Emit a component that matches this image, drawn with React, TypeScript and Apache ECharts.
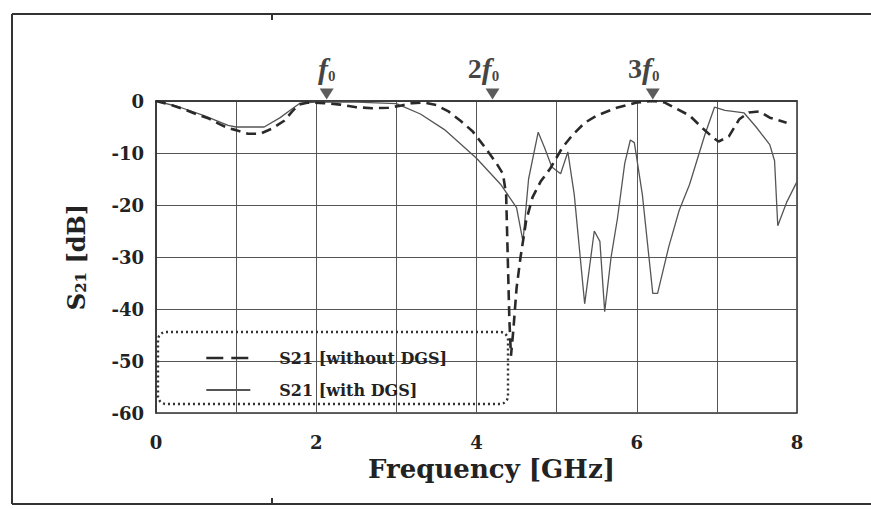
import React, { useEffect, useRef } from "react";
import * as echarts from "echarts";

// S21 without DGS (dashed)
const freqWithout = [0, 0.2, 0.35, 0.5, 0.65, 0.8, 0.9, 1.0, 1.15, 1.3, 1.45, 1.6, 1.7, 1.78, 1.9, 2.1, 2.3, 2.5, 2.7, 2.9, 3.05, 3.2, 3.35, 3.5, 3.65, 3.8, 3.95, 4.1, 4.25, 4.33, 4.37, 4.39, 4.41, 4.43, 4.46, 4.5, 4.55, 4.62, 4.7, 4.8, 4.92, 5.07, 5.2, 5.35, 5.5, 5.75, 6.0, 6.2, 6.35, 6.5, 6.66, 6.82, 6.95, 7.02, 7.15, 7.28, 7.4, 7.53, 7.66, 7.87];
const s21Without = [0, -0.8, -1.6, -2.5, -3.3, -4.5, -5.2, -5.6, -6.3, -6.3, -5.3, -3.8, -2.0, -0.7, -0.3, -0.4, -0.7, -1.2, -1.4, -1.3, -0.9, -0.4, -0.3, -0.8, -2.0, -3.8, -5.8, -8.8, -12, -14, -18, -30, -42, -49, -44, -36, -30, -23, -18.5, -15.5, -13, -9, -6.5, -4.2, -2.8, -1.3, -0.3, 0, -0.3, -1.5, -2.8, -5.2, -7, -7.8, -6.8, -3.5, -2.2, -2, -3.2, -4.2];

// S21 with DGS (solid)
const freqWith = [0, 0.3, 0.6, 0.9, 1.0, 1.35, 1.55, 1.7, 1.8, 2.0, 2.5, 3.0, 3.3, 3.6, 4.0, 4.3, 4.5, 4.58, 4.65, 4.77, 4.85, 4.94, 5.05, 5.14, 5.22, 5.35, 5.47, 5.54, 5.6, 5.68, 5.76, 5.85, 5.92, 5.97, 6.07, 6.2, 6.26, 6.4, 6.53, 6.66, 6.85, 6.97, 7.1, 7.2, 7.34, 7.49, 7.66, 7.72, 7.76, 7.87, 8.0];
const s21With = [0, -1.2, -2.8, -4.7, -5, -5, -3.2, -1.5, -0.4, -0.2, -0.2, -0.5, -2.5, -5.5, -11, -16, -20.5, -27, -15, -6, -9, -12.7, -14, -9.8, -18, -39, -25, -27, -40.5, -30, -22.5, -12, -7.5, -8, -18, -37, -37, -28, -21, -16, -6.5, -1.2, -1.8, -2, -2.3, -5, -8.4, -11.5, -24, -19.5, -15.5];

// harmonic markers
const markerFreqs = [2.13, 4.2, 6.2];
const markerLabels = ["{f|f}{s|0}", "{n|2}{f|f}{s|0}", "{n|3}{f|f}{s|0}"];

const seriesNames = ["S21 [without DGS]", "S21 [with DGS]"];

const SERIF = "'DejaVu Serif', 'Liberation Serif', serif";
const TIMES = "'Liberation Serif', serif";

export default function App() {
  const ref = useRef<HTMLDivElement>(null);
  useEffect(() => {
    if (!ref.current) return;
    const chart = echarts.init(ref.current, undefined, { renderer: "svg" });
    const dataWithout = freqWithout.map((f, i) => [f, s21Without[i]]);
    const dataWith = freqWith.map((f, i) => [f, s21With[i]]);
    const markerData = markerFreqs.map((f, i) => ({
      value: [f, 0],
      label: { formatter: markerLabels[i], offset: [i === 0 ? 0 : -9, 0] },
    }));
    chart.setOption({
      animation: false,
      backgroundColor: "#ffffff",
      grid: { left: 156, right: 74, top: 101, bottom: 96, show: true, borderColor: "#333", borderWidth: 1.5 },
      xAxis: {
        type: "value",
        min: 0,
        max: 8,
        interval: 1,
        name: "Frequency [GHz]",
        nameLocation: "middle",
        nameGap: 40,
        nameTextStyle: { fontFamily: SERIF, fontWeight: "bold", fontSize: 26, color: "#222", padding: [0, 0, 0, 30] },
        axisLine: { show: true, lineStyle: { color: "#333", width: 1.5 } },
        axisTick: { show: false },
        axisLabel: {
          margin: 20,
          fontFamily: SERIF,
          fontWeight: "bold",
          fontSize: 18,
          color: "#222",
          formatter: (v: number) => (v % 2 === 0 ? String(v) : ""),
        },
        splitLine: { show: true, lineStyle: { color: "#555", width: 1 } },
      },
      yAxis: {
        type: "value",
        min: -60,
        max: 0,
        interval: 10,
        name: "{a|S}{b|21}{a| [dB]}",
        nameLocation: "middle",
        nameGap: 68,
        nameRotate: 90,
        nameTextStyle: {
          rich: {
            a: { fontFamily: SERIF, fontWeight: "bold", fontSize: 24, color: "#222" },
            b: { fontFamily: SERIF, fontWeight: "bold", fontSize: 15, color: "#222", verticalAlign: "bottom", padding: [7, 0, 0, 0] },
          },
        },
        axisLine: { show: true, lineStyle: { color: "#333", width: 1.5 } },
        axisTick: { show: false },
        axisLabel: { margin: 12, fontFamily: SERIF, fontWeight: "bold", fontSize: 18, color: "#222" },
        splitLine: { show: true, lineStyle: { color: "#555", width: 1 } },
      },
      legend: {
        orient: "vertical",
        left: 200,
        top: 345,
        data: [
          { name: seriesNames[0], lineStyle: { type: [17, 8], width: 2.6 } },
          { name: seriesNames[1] },
        ],
        itemWidth: 44,
        itemHeight: 14,
        itemGap: 16,
        itemStyle: { opacity: 0 },
        textStyle: { fontFamily: SERIF, fontWeight: "bold", fontSize: 16, color: "#222", padding: [0, 0, 0, 24] },
      },
      graphic: [
        { type: "rect", shape: { x: 158, y: 332, width: 350, height: 72, r: 8 }, style: { fill: "none", stroke: "#333", lineWidth: 2.4, lineDash: [2, 3] }, z: 10 },
        { type: "line", shape: { x1: 12, y1: 14, x2: 871, y2: 14 }, style: { stroke: "#333", lineWidth: 2 } },
        { type: "line", shape: { x1: 12, y1: 14, x2: 12, y2: 504 }, style: { stroke: "#333", lineWidth: 2 } },
        { type: "line", shape: { x1: 12, y1: 504, x2: 871, y2: 504 }, style: { stroke: "#333", lineWidth: 2 } },
        { type: "line", shape: { x1: 272, y1: 14, x2: 272, y2: 20 }, style: { stroke: "#333", lineWidth: 2 } },
        { type: "line", shape: { x1: 272, y1: 498, x2: 272, y2: 504 }, style: { stroke: "#333", lineWidth: 2 } },
      ],
      series: [
        {
          name: seriesNames[0],
          type: "line",
          data: dataWithout,
          showSymbol: false,
          symbol: "none",
          lineStyle: { color: "#2a2a2a", width: 2.6, type: [10, 6] },
          itemStyle: { color: "#2a2a2a" },
          z: 3,
        },
        {
          name: seriesNames[1],
          type: "line",
          data: dataWith,
          showSymbol: false,
          symbol: "none",
          lineStyle: { color: "#555", width: 1.3, type: "solid" },
          itemStyle: { color: "#555" },
          z: 2,
        },
        {
          name: "markers",
          type: "scatter",
          data: markerData,
          symbol: "triangle",
          symbolRotate: 180,
          symbolSize: [14, 11],
          symbolOffset: [0, -7],
          clip: false,
          itemStyle: { color: "#333" },
          label: {
            show: true,
            position: "top",
            distance: 5,
            color: "#111",
            rich: {
              n: { fontFamily: TIMES, fontWeight: "bold", fontSize: 28, color: "#111" },
              f: { fontFamily: TIMES, fontWeight: "bold", fontStyle: "italic", fontSize: 30, color: "#111" },
              s: { fontFamily: TIMES, fontWeight: "bold", fontSize: 15, color: "#111", verticalAlign: "bottom", padding: [9, 0, 0, 0] },
            },
          },
          z: 5,
        },
      ],
    });
    return () => chart.dispose();
  }, []);
  return <div ref={ref} style={{ position: "fixed", left: 0, top: 0, width: 871, height: 509 }} />;
}
